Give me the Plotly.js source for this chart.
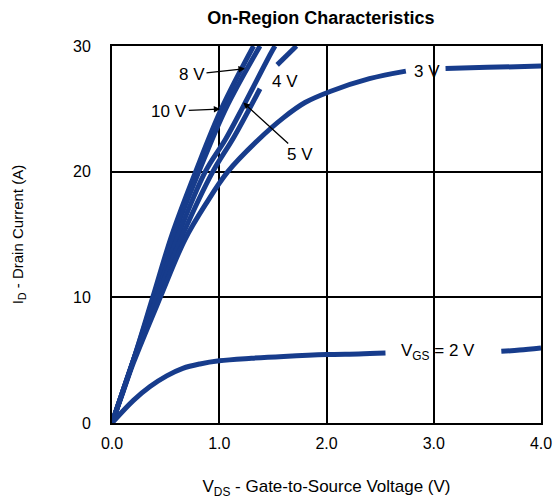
<!DOCTYPE html>
<html>
<head>
<meta charset="utf-8">
<script src="https://cdn.plot.ly/plotly-3.0.1.min.js"></script>
<style>html,body{margin:0;padding:0;background:#fff;}#chart{width:560px;height:502px;}</style>
</head>
<body>
<div id="chart"></div>
<script>
// V_DS (V) and I_D (A) for each gate voltage; null marks a break in the drawn curve
const vds10V = [0, 0.1, 0.2, 0.38, 0.56, 0.78, 1.02, 1.32];
const id10V  = [0, 2.5, 5, 10, 15, 20, 25, 30];
const vds8V  = [0, 0.1, 0.2, 0.39, 0.58, 0.81, 1.06, 1.38];
const id8V   = [0, 2.5, 5, 10, 15, 20, 25, 30];
const vds5V  = [0, 0.1, 0.2, 0.41, 0.62, 0.87, 1.06, 1.23, 1.48, 1.52];
const id5V   = [0, 2.5, 5, 10, 15, 20, 22.6, 25.3, 29.4, 30];
const vds4V  = [0, 0.1, 0.2, 0.42, 0.66, 0.94, 1.14, 1.38, null, 1.54, 1.72];
const id4V   = [0, 2.5, 5, 10, 15, 20, 22.8, 26.6, null, 28.5, 30];
const vds3V  = [0, 0.1, 0.2, 0.45, 0.68, 0.88, 1.08, 1.36, 1.6, 1.8, 2.04, 2.4, 2.74, null, 3.11, 3.5, 4.0];
const id3V   = [0, 2.4, 4.8, 10, 14.6, 17.5, 20.0, 22.5, 24.3, 25.5, 26.4, 27.4, 28.0, null, 28.2, 28.3, 28.4];
const vds2V  = [0, 0.2, 0.355, 0.51, 0.66, 0.82, 1.0, 1.3, 1.6, 2.0, 2.3, 2.55, null, 3.63, 3.8, 4.0];
const id2V   = [0, 1.8, 2.9, 3.75, 4.35, 4.7, 4.95, 5.15, 5.3, 5.45, 5.5, 5.57, null, 5.7, 5.8, 5.97];

const xTicks = [0, 1, 2, 3, 4];
const xTickLabels = ['0.0', '1.0', '2.0', '3.0', '4.0'];
const yTicks = [0, 10, 20, 30];
const yTickLabels = ['0', '10', '20', '30'];

const curveColor = '#173c8c';
const series = [
  [vds10V, id10V], [vds8V, id8V], [vds5V, id5V], [vds4V, id4V], [vds3V, id3V], [vds2V, id2V]
];
const traces = series.map(([x, y]) => ({
  x: x, y: y, type: 'scatter', mode: 'lines',
  line: {color: curveColor, width: 5, shape: 'spline', smoothing: 1},
  connectgaps: false, hoverinfo: 'skip'
}));

const FAM = 'Liberation Sans, Arial, sans-serif';
const tickFont = {family: FAM, size: 16, color: '#000'};
const lblFont = {family: FAM, size: 17, color: '#000'};
const arrowCommon = {showarrow: true, arrowhead: 2, arrowsize: 1, arrowwidth: 1.3, arrowcolor: '#000', font: lblFont};

const layout = {
  width: 560, height: 502,
  margin: {l: 112, r: 19, t: 46, b: 79},
  paper_bgcolor: '#fff', plot_bgcolor: '#fff',
  showlegend: false, hovermode: false,
  title: {text: '<b>On-Region Characteristics</b>', font: {family: FAM, size: 18, color: '#000'}, x: 0.573, xanchor: 'center', y: 0.964, yanchor: 'middle'},
  xaxis: {
    range: [0, 4], tickvals: xTicks, ticktext: xTickLabels,
    showgrid: true, gridcolor: '#000', gridwidth: 2, zeroline: false,
    showline: true, linecolor: '#000', linewidth: 2, mirror: true,
    ticks: '', ticklabelstandoff: 5, tickfont: tickFont,
    title: {text: 'V<sub>DS</sub> - Gate-to-Source Voltage (V)', font: {family: FAM, size: 17, color: '#000'}, standoff: 29}
  },
  yaxis: {
    range: [0, 30], tickvals: yTicks, ticktext: yTickLabels,
    showgrid: true, gridcolor: '#000', gridwidth: 2, zeroline: false,
    showline: true, linecolor: '#000', linewidth: 2, mirror: true,
    ticks: '', ticklabelstandoff: 16, tickfont: tickFont,
    title: {text: 'I<sub>D</sub> - Drain Current (A)', font: {family: FAM, size: 15, color: '#000'}, standoff: 46}
  },
  annotations: [
    Object.assign({x: 1.24, y: 28.2, ax: -53, ay: 6, text: '8 V'}, arrowCommon),
    Object.assign({x: 1.01, y: 24.98, ax: -51, ay: 2, text: '10 V'}, arrowCommon),
    Object.assign({x: 1.224, y: 25.5, ax: 57, ay: 52, text: '5 V'}, arrowCommon),
    {x: 1.61, y: 27.2, text: '4 V', showarrow: false, font: lblFont},
    {x: 2.94, y: 28.0, text: '3 V', showarrow: false, font: lblFont},
    {x: 3.04, y: 5.65, text: 'V<sub>GS</sub> = 2 V', showarrow: false, font: lblFont}
  ]
};

Plotly.newPlot('chart', traces, layout, {displayModeBar: false, staticPlot: true});
</script>
</body>
</html>
